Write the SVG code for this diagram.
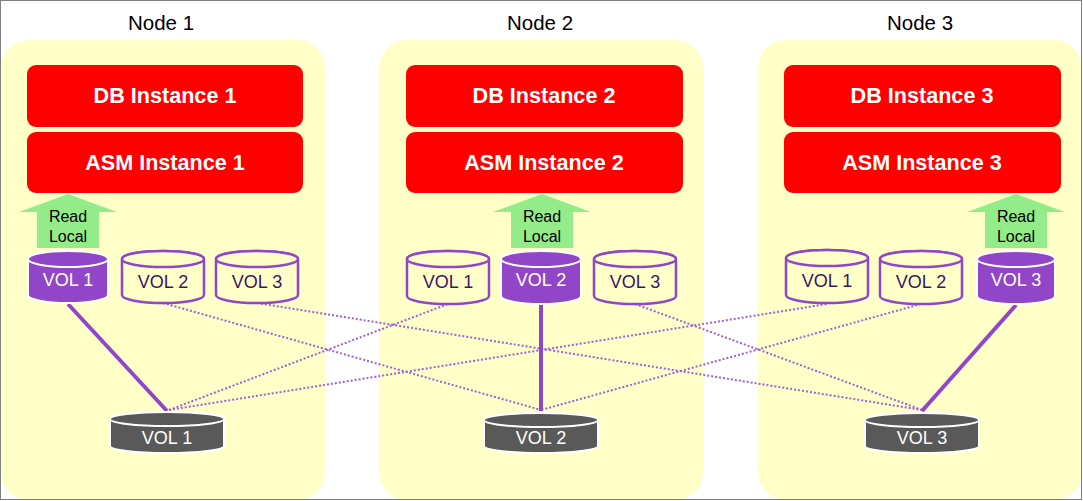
<svg xmlns="http://www.w3.org/2000/svg" width="1083" height="501" viewBox="0 0 1083 501">
<style>
.panel{fill:#FFFFC8}
.title{font-family:"Liberation Sans",Arial,sans-serif;font-size:20.5px;fill:#000;text-anchor:middle}
.red{fill:#FF0000}
.inst{font-family:"Liberation Sans",Arial,sans-serif;font-size:21.6px;font-weight:bold;fill:#fff;text-anchor:middle}
.arrow{fill:#93EB89}
.rl{font-family:"Liberation Sans",Arial,sans-serif;font-size:16px;fill:#000;text-anchor:middle}
.volo{fill:#FFFFC8;stroke:#9146C8;stroke-width:2.5}
.volf{fill:#9146C8;stroke:#fff;stroke-width:2}
.volg{fill:#595959;stroke:#fff;stroke-width:2}
.vt{font-family:"Liberation Sans",Arial,sans-serif;font-size:18px;text-anchor:middle}
.vto{fill:#3C1466}
.vtw{fill:#fff}
.solid{stroke:#9146C8;stroke-width:4;fill:none}
.dot{stroke:#A060D8;stroke-width:2;stroke-dasharray:2 2;fill:none}
</style>
<rect x="0.5" y="0.5" width="1081" height="499" fill="#fff" stroke="#808080" stroke-width="1"/>
<g id="node1">
<rect class="panel" x="1" y="40" width="324" height="460" rx="28"/>
<text class="title" x="161" y="30">Node 1</text>
</g>
<g id="node2">
<rect class="panel" x="379" y="40" width="324" height="460" rx="28"/>
<text class="title" x="540" y="30">Node 2</text>
</g>
<g id="node3">
<rect class="panel" x="758" y="40" width="324" height="460" rx="28"/>
<text class="title" x="920" y="30">Node 3</text>
</g>
<rect x="0.5" y="0.5" width="1081" height="499" fill="none" stroke="#808080" stroke-width="1"/>
<g id="connectors">
<line class="dot" x1="169" y1="410" x2="448" y2="304"/>
<line class="dot" x1="169" y1="410" x2="827" y2="304"/>
<line class="dot" x1="163" y1="303" x2="541" y2="410"/>
<line class="dot" x1="257" y1="303" x2="922" y2="410"/>
<line class="dot" x1="635" y1="304" x2="922" y2="410"/>
<line class="dot" x1="921" y1="304" x2="541" y2="410"/>
<line class="solid" x1="68" y1="304" x2="167" y2="411"/>
<line class="solid" x1="541" y1="305" x2="541" y2="411"/>
<line class="solid" x1="1016" y1="305" x2="922" y2="411"/>
</g>
<g id="db1"><rect class="red" x="27" y="65" width="276" height="62" rx="9"/><text class="inst" x="165" y="103">DB Instance 1</text></g>
<g id="asm1"><rect class="red" x="27" y="132" width="276" height="61" rx="9"/><text class="inst" x="165" y="170">ASM Instance 1</text></g>
<g id="db2"><rect class="red" x="406" y="65" width="277" height="62" rx="9"/><text class="inst" x="544" y="103">DB Instance 2</text></g>
<g id="asm2"><rect class="red" x="406" y="132" width="277" height="61" rx="9"/><text class="inst" x="544" y="170">ASM Instance 2</text></g>
<g id="db3"><rect class="red" x="784" y="65" width="277" height="62" rx="9"/><text class="inst" x="922" y="103">DB Instance 3</text></g>
<g id="asm3"><rect class="red" x="784" y="132" width="277" height="61" rx="9"/><text class="inst" x="922" y="170">ASM Instance 3</text></g>
<g id="read1"><path class="arrow" d="M68,194 L117,212 L99,212 L99,248 L37,248 L37,212 L19,212 Z"/><text class="rl" x="68" y="222">Read</text><text class="rl" x="68" y="242">Local</text></g>
<g id="read2"><path class="arrow" d="M542,194 L591,212 L573,212 L573,248 L511,248 L511,212 L493,212 Z"/><text class="rl" x="542" y="222">Read</text><text class="rl" x="542" y="242">Local</text></g>
<g id="read3"><path class="arrow" d="M1016,194 L1065,212 L1047,212 L1047,248 L985,248 L985,212 L967,212 Z"/><text class="rl" x="1016" y="222">Read</text><text class="rl" x="1016" y="242">Local</text></g>
<g id="n1vol1"><path class="volf" d="M28,259 A40,8 0 0 1 108,259 V295 A40,8 0 0 1 28,295 Z"/><ellipse class="volf" cx="68" cy="259" rx="40" ry="8"/><text class="vt vtw" x="68" y="286">VOL 1</text></g>
<g id="n1vol2"><path class="volo" d="M122,259 A41,8 0 0 1 204,259 V295 A41,8 0 0 1 122,295 Z"/><ellipse class="volo" cx="163" cy="259" rx="41" ry="8"/><text class="vt vto" x="163" y="288">VOL 2</text></g>
<g id="n1vol3"><path class="volo" d="M216,259 A41,8 0 0 1 298,259 V295 A41,8 0 0 1 216,295 Z"/><ellipse class="volo" cx="257" cy="259" rx="41" ry="8"/><text class="vt vto" x="257" y="288">VOL 3</text></g>
<g id="n2vol1"><path class="volo" d="M407,259 A41,8 0 0 1 489,259 V296 A41,8 0 0 1 407,296 Z"/><ellipse class="volo" cx="448" cy="259" rx="41" ry="8"/><text class="vt vto" x="448" y="288">VOL 1</text></g>
<g id="n2vol2"><path class="volf" d="M501,259 A40,8 0 0 1 581,259 V296 A40,8 0 0 1 501,296 Z"/><ellipse class="volf" cx="541" cy="259" rx="40" ry="8"/><text class="vt vtw" x="541" y="286">VOL 2</text></g>
<g id="n2vol3"><path class="volo" d="M594,259 A41,8 0 0 1 676,259 V296 A41,8 0 0 1 594,296 Z"/><ellipse class="volo" cx="635" cy="259" rx="41" ry="8"/><text class="vt vto" x="635" y="288">VOL 3</text></g>
<g id="n3vol1"><path class="volo" d="M786,258 A41,8 0 0 1 868,258 V295 A41,8 0 0 1 786,295 Z"/><ellipse class="volo" cx="827" cy="258" rx="41" ry="8"/><text class="vt vto" x="827" y="287">VOL 1</text></g>
<g id="n3vol2"><path class="volo" d="M880,259 A41,8 0 0 1 962,259 V296 A41,8 0 0 1 880,296 Z"/><ellipse class="volo" cx="921" cy="259" rx="41" ry="8"/><text class="vt vto" x="921" y="288">VOL 2</text></g>
<g id="n3vol3"><path class="volf" d="M977,259 A39,8 0 0 1 1055,259 V296 A39,8 0 0 1 977,296 Z"/><ellipse class="volf" cx="1016" cy="259" rx="39" ry="8"/><text class="vt vtw" x="1016" y="286">VOL 3</text></g>
<g id="disk1"><path class="volg" d="M110,419 A57,7 0 0 1 224,419 V446 A57,7 0 0 1 110,446 Z"/><ellipse class="volg" cx="167" cy="419" rx="57" ry="7"/><text class="vt vtw" x="167" y="444">VOL 1</text></g>
<g id="disk2"><path class="volg" d="M484,420 A57,7 0 0 1 598,420 V446 A57,7 0 0 1 484,446 Z"/><ellipse class="volg" cx="541" cy="420" rx="57" ry="7"/><text class="vt vtw" x="541" y="444">VOL 2</text></g>
<g id="disk3"><path class="volg" d="M865,420 A57,7 0 0 1 979,420 V446 A57,7 0 0 1 865,446 Z"/><ellipse class="volg" cx="922" cy="420" rx="57" ry="7"/><text class="vt vtw" x="922" y="444">VOL 3</text></g>
</svg>
